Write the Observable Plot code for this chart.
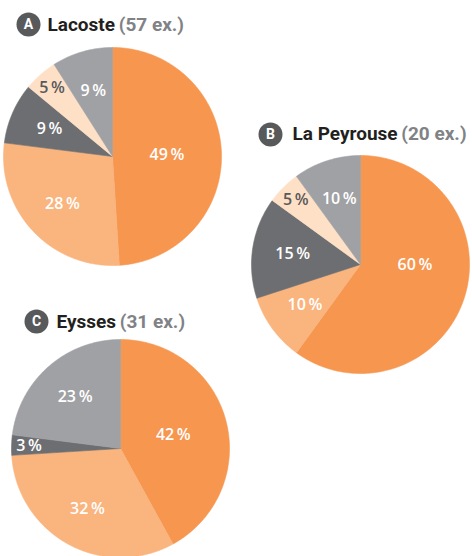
<!DOCTYPE html>
<html><head><meta charset="utf-8">
<script src="https://cdn.jsdelivr.net/npm/d3@7"></script>
<script src="https://cdn.jsdelivr.net/npm/@observablehq/plot@0.6"></script>
<style>body{margin:0;background:#fff}</style>
</head><body><div id="chart"></div>
<script>
// ---- data ----
const siteLetters = ["A", "B", "C"];
const siteNames = ["Lacoste", "La Peyrouse", "Eysses"];
const siteCounts = ["(57 ex.)", "(20 ex.)", "(31 ex.)"];
const categories = ["cat1", "cat2", "cat3", "cat4", "cat5"];
const valuesA = [49, 28, 9, 5, 9];
const valuesB = [60, 10, 15, 5, 10];
const valuesC = [42, 32, 3, 0, 23];
const sliceColors = ["#F7964F", "#FAB47E", "#6D6E71", "#FEE0C7", "#A0A1A4"];
const labelColors = ["#ffffff", "#ffffff", "#ffffff", "#58595B", "#ffffff"];

// ---- layout ----
const W = 472, H = 556, R = 109;
const layout = [
  {cx: 112, cy: 156, bx: 28, by: 24, tx: 47, ty: 30},
  {cx: 360, cy: 264, bx: 270, by: 134, tx: 292, ty: 139},
  {cx: 120, cy: 448, bx: 36, by: 321, tx: 56, ty: 327}
];
const seriesValues = [valuesA, valuesB, valuesC];

const titleFont = "700 19px Roboto";
const ctx = document.createElement("canvas").getContext("2d");
ctx.font = titleFont;

const polys = [], labels = [], badges = [], names = [], counts = [];
seriesValues.forEach((vals, s) => {
  const L = layout[s];
  const arcs = d3.pie().sort(null).startAngle(0).endAngle(2 * Math.PI)(vals);
  arcs.forEach((a, i) => {
    if (a.value <= 0) return;
    const key = siteLetters[s] + categories[i];
    const pt = th => ({key, color: sliceColors[i], x: L.cx + R * Math.sin(th), y: L.cy - R * Math.cos(th)});
    polys.push({key, color: sliceColors[i], x: L.cx, y: L.cy});
    const n = Math.max(2, Math.ceil((a.endAngle - a.startAngle) / 0.01));
    for (let k = 0; k <= n; k++) polys.push(pt(a.startAngle + (a.endAngle - a.startAngle) * k / n));
    polys.push({key, color: sliceColors[i], x: L.cx, y: L.cy});
    const mid = (a.startAngle + a.endAngle) / 2;
    const ang = i === 0 ? Math.min(mid, Math.PI / 2) : mid;
    const rr = a.value <= 5 ? 0.84 * R : (i === 0 ? 0.5 * R : 0.63 * R);
    labels.push({x: L.cx + rr * Math.sin(ang), y: L.cy - rr * Math.cos(ang),
      text: `${a.value}\u2009%`, color: labelColors[i]});
  });
  badges.push({x: L.bx, y: L.by, text: siteLetters[s]});
  names.push({x: L.tx, y: L.ty, text: siteNames[s]});
  counts.push({x: L.tx + ctx.measureText(siteNames[s] + " ").width - 1, y: L.ty, text: siteCounts[s]});
});

const chart = Plot.plot({
  width: W, height: H, margin: 0,
  x: {domain: [0, W], range: [0, W], axis: null},
  y: {domain: [0, H], range: [0, H], axis: null},
  color: {type: "identity"},
  style: {background: "#fff"},
  marks: [
    Plot.line(polys, {x: "x", y: "y", z: "key", fill: "color", stroke: "color", strokeWidth: 0.6, curve: "linear"}),
    Plot.text(labels, {x: "x", y: "y", text: "text", fill: "color", fontSize: 16, fontWeight: 600, fontFamily: "Open Sans"}),
    Plot.dot(badges, {x: "x", y: "y", r: 12, fill: "#58595B", stroke: null}),
    Plot.text(badges, {x: "x", y: "y", text: "text", fill: "#fff", fontSize: 14, fontWeight: 700, fontFamily: "Roboto"}),
    Plot.text(names, {x: "x", y: "y", text: "text", textAnchor: "start", lineAnchor: "bottom", fill: "#231F20", fontSize: 19, fontWeight: 700, fontFamily: "Roboto"}),
    Plot.text(counts, {x: "x", y: "y", text: "text", textAnchor: "start", lineAnchor: "bottom", fill: "#808285", fontSize: 19, fontWeight: 700, fontFamily: "Roboto"})
  ]
});
document.getElementById("chart").appendChild(chart);
</script>
</body></html>
